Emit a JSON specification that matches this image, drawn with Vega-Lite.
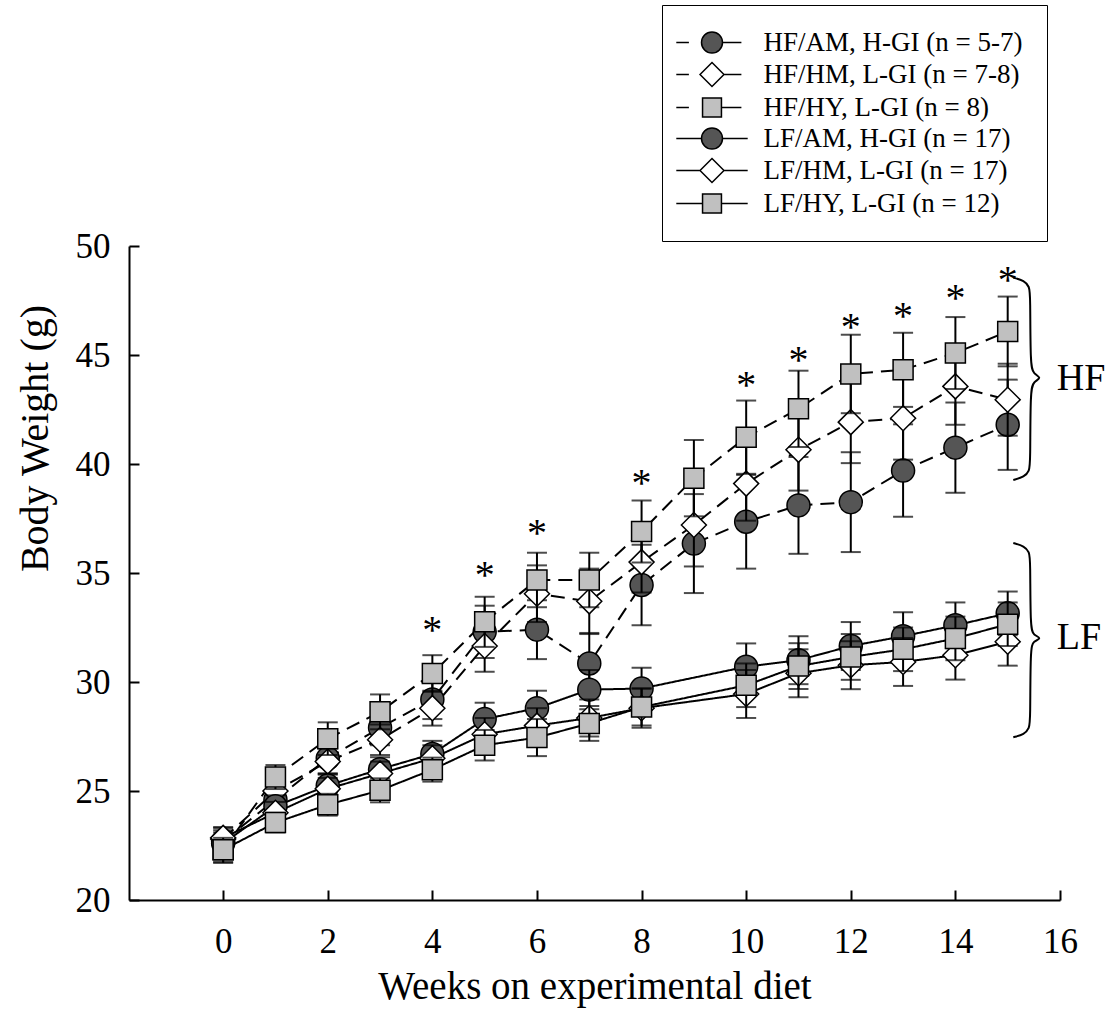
{
  "$schema": "https://vega.github.io/schema/vega-lite/v6.json",
  "width": 931,
  "height": 654,
  "autosize": {"type": "none"},
  "padding": {"left": 129, "top": 246, "right": 55, "bottom": 129},
  "background": "white",
  "config": {"view": {"stroke": null}, "font": "Liberation Serif"},
  "data": {"values": [
    {"d": "HF/AM, H-GI (n = 5-7)", "w": 0, "m": 22.7, "e": 0.5},
    {"d": "HF/AM, H-GI (n = 5-7)", "w": 1, "m": 24.6, "e": 0.6},
    {"d": "HF/AM, H-GI (n = 5-7)", "w": 2, "m": 26.5, "e": 0.7},
    {"d": "HF/AM, H-GI (n = 5-7)", "w": 3, "m": 27.9, "e": 0.8},
    {"d": "HF/AM, H-GI (n = 5-7)", "w": 4, "m": 29.2, "e": 0.9},
    {"d": "HF/AM, H-GI (n = 5-7)", "w": 5, "m": 32.3, "e": 1.2},
    {"d": "HF/AM, H-GI (n = 5-7)", "w": 6, "m": 32.4, "e": 1.35},
    {"d": "HF/AM, H-GI (n = 5-7)", "w": 7, "m": 30.85, "e": 1.4},
    {"d": "HF/AM, H-GI (n = 5-7)", "w": 8, "m": 34.45, "e": 1.85},
    {"d": "HF/AM, H-GI (n = 5-7)", "w": 9, "m": 36.35, "e": 2.27},
    {"d": "HF/AM, H-GI (n = 5-7)", "w": 10, "m": 37.35, "e": 2.15},
    {"d": "HF/AM, H-GI (n = 5-7)", "w": 11, "m": 38.1, "e": 2.22},
    {"d": "HF/AM, H-GI (n = 5-7)", "w": 12, "m": 38.25, "e": 2.29},
    {"d": "HF/AM, H-GI (n = 5-7)", "w": 13, "m": 39.7, "e": 2.12},
    {"d": "HF/AM, H-GI (n = 5-7)", "w": 14, "m": 40.75, "e": 2.07},
    {"d": "HF/AM, H-GI (n = 5-7)", "w": 15, "m": 41.8, "e": 2.07},
    {"d": "HF/HM, L-GI (n = 7-8)", "w": 0, "m": 22.8, "e": 0.5},
    {"d": "HF/HM, L-GI (n = 7-8)", "w": 1, "m": 25.0, "e": 0.6},
    {"d": "HF/HM, L-GI (n = 7-8)", "w": 2, "m": 26.35, "e": 0.6},
    {"d": "HF/HM, L-GI (n = 7-8)", "w": 3, "m": 27.35, "e": 0.7},
    {"d": "HF/HM, L-GI (n = 7-8)", "w": 4, "m": 28.8, "e": 0.8},
    {"d": "HF/HM, L-GI (n = 7-8)", "w": 5, "m": 31.65, "e": 1.18},
    {"d": "HF/HM, L-GI (n = 7-8)", "w": 6, "m": 34.05, "e": 1.3},
    {"d": "HF/HM, L-GI (n = 7-8)", "w": 7, "m": 33.7, "e": 1.5},
    {"d": "HF/HM, L-GI (n = 7-8)", "w": 8, "m": 35.5, "e": 1.4},
    {"d": "HF/HM, L-GI (n = 7-8)", "w": 9, "m": 37.2, "e": 1.9},
    {"d": "HF/HM, L-GI (n = 7-8)", "w": 10, "m": 39.1, "e": 1.7},
    {"d": "HF/HM, L-GI (n = 7-8)", "w": 11, "m": 40.65, "e": 1.87},
    {"d": "HF/HM, L-GI (n = 7-8)", "w": 12, "m": 41.92, "e": 1.88},
    {"d": "HF/HM, L-GI (n = 7-8)", "w": 13, "m": 42.1, "e": 1.9},
    {"d": "HF/HM, L-GI (n = 7-8)", "w": 14, "m": 43.56, "e": 1.76},
    {"d": "HF/HM, L-GI (n = 7-8)", "w": 15, "m": 42.95, "e": 1.65},
    {"d": "HF/HY, L-GI (n = 8)", "w": 0, "m": 22.3, "e": 0.6},
    {"d": "HF/HY, L-GI (n = 8)", "w": 1, "m": 25.64, "e": 0.55},
    {"d": "HF/HY, L-GI (n = 8)", "w": 2, "m": 27.4, "e": 0.75},
    {"d": "HF/HY, L-GI (n = 8)", "w": 3, "m": 28.63, "e": 0.8},
    {"d": "HF/HY, L-GI (n = 8)", "w": 4, "m": 30.39, "e": 0.84},
    {"d": "HF/HY, L-GI (n = 8)", "w": 5, "m": 32.76, "e": 1.15},
    {"d": "HF/HY, L-GI (n = 8)", "w": 6, "m": 34.68, "e": 1.25},
    {"d": "HF/HY, L-GI (n = 8)", "w": 7, "m": 34.68, "e": 1.25},
    {"d": "HF/HY, L-GI (n = 8)", "w": 8, "m": 36.9, "e": 1.42},
    {"d": "HF/HY, L-GI (n = 8)", "w": 9, "m": 39.35, "e": 1.75},
    {"d": "HF/HY, L-GI (n = 8)", "w": 10, "m": 41.23, "e": 1.68},
    {"d": "HF/HY, L-GI (n = 8)", "w": 11, "m": 42.53, "e": 1.75},
    {"d": "HF/HY, L-GI (n = 8)", "w": 12, "m": 44.13, "e": 1.8},
    {"d": "HF/HY, L-GI (n = 8)", "w": 13, "m": 44.32, "e": 1.7},
    {"d": "HF/HY, L-GI (n = 8)", "w": 14, "m": 45.09, "e": 1.65},
    {"d": "HF/HY, L-GI (n = 8)", "w": 15, "m": 46.08, "e": 1.6},
    {"d": "LF/AM, H-GI (n = 17)", "w": 0, "m": 22.6, "e": 0.5},
    {"d": "LF/AM, H-GI (n = 17)", "w": 1, "m": 24.3, "e": 0.5},
    {"d": "LF/AM, H-GI (n = 17)", "w": 2, "m": 25.25, "e": 0.55},
    {"d": "LF/AM, H-GI (n = 17)", "w": 3, "m": 26.0, "e": 0.55},
    {"d": "LF/AM, H-GI (n = 17)", "w": 4, "m": 26.7, "e": 0.6},
    {"d": "LF/AM, H-GI (n = 17)", "w": 5, "m": 28.3, "e": 0.75},
    {"d": "LF/AM, H-GI (n = 17)", "w": 6, "m": 28.8, "e": 0.8},
    {"d": "LF/AM, H-GI (n = 17)", "w": 7, "m": 29.65, "e": 0.9},
    {"d": "LF/AM, H-GI (n = 17)", "w": 8, "m": 29.7, "e": 0.95},
    {"d": "LF/AM, H-GI (n = 17)", "w": 10, "m": 30.7, "e": 1.07},
    {"d": "LF/AM, H-GI (n = 17)", "w": 11, "m": 31.0, "e": 1.1},
    {"d": "LF/AM, H-GI (n = 17)", "w": 12, "m": 31.65, "e": 1.1},
    {"d": "LF/AM, H-GI (n = 17)", "w": 13, "m": 32.1, "e": 1.1},
    {"d": "LF/AM, H-GI (n = 17)", "w": 14, "m": 32.6, "e": 1.05},
    {"d": "LF/AM, H-GI (n = 17)", "w": 15, "m": 33.15, "e": 1.0},
    {"d": "LF/HM, L-GI (n = 17)", "w": 0, "m": 22.85, "e": 0.5},
    {"d": "LF/HM, L-GI (n = 17)", "w": 1, "m": 24.0, "e": 0.5},
    {"d": "LF/HM, L-GI (n = 17)", "w": 2, "m": 25.1, "e": 0.5},
    {"d": "LF/HM, L-GI (n = 17)", "w": 3, "m": 25.8, "e": 0.55},
    {"d": "LF/HM, L-GI (n = 17)", "w": 4, "m": 26.5, "e": 0.6},
    {"d": "LF/HM, L-GI (n = 17)", "w": 5, "m": 27.6, "e": 0.75},
    {"d": "LF/HM, L-GI (n = 17)", "w": 6, "m": 28.0, "e": 0.8},
    {"d": "LF/HM, L-GI (n = 17)", "w": 7, "m": 28.35, "e": 0.85},
    {"d": "LF/HM, L-GI (n = 17)", "w": 8, "m": 28.8, "e": 0.9},
    {"d": "LF/HM, L-GI (n = 17)", "w": 10, "m": 29.45, "e": 1.1},
    {"d": "LF/HM, L-GI (n = 17)", "w": 11, "m": 30.4, "e": 1.1},
    {"d": "LF/HM, L-GI (n = 17)", "w": 12, "m": 30.77, "e": 1.1},
    {"d": "LF/HM, L-GI (n = 17)", "w": 13, "m": 30.92, "e": 1.1},
    {"d": "LF/HM, L-GI (n = 17)", "w": 14, "m": 31.23, "e": 1.12},
    {"d": "LF/HM, L-GI (n = 17)", "w": 15, "m": 31.85, "e": 1.1},
    {"d": "LF/HY, L-GI (n = 12)", "w": 0, "m": 22.3, "e": 0.55},
    {"d": "LF/HY, L-GI (n = 12)", "w": 1, "m": 23.55, "e": 0.45},
    {"d": "LF/HY, L-GI (n = 12)", "w": 2, "m": 24.37, "e": 0.5},
    {"d": "LF/HY, L-GI (n = 12)", "w": 3, "m": 25.03, "e": 0.55},
    {"d": "LF/HY, L-GI (n = 12)", "w": 4, "m": 25.98, "e": 0.55},
    {"d": "LF/HY, L-GI (n = 12)", "w": 5, "m": 27.1, "e": 0.7},
    {"d": "LF/HY, L-GI (n = 12)", "w": 6, "m": 27.45, "e": 0.85},
    {"d": "LF/HY, L-GI (n = 12)", "w": 7, "m": 28.1, "e": 0.8},
    {"d": "LF/HY, L-GI (n = 12)", "w": 8, "m": 28.85, "e": 0.85},
    {"d": "LF/HY, L-GI (n = 12)", "w": 10, "m": 29.85, "e": 1.0},
    {"d": "LF/HY, L-GI (n = 12)", "w": 11, "m": 30.73, "e": 1.05},
    {"d": "LF/HY, L-GI (n = 12)", "w": 12, "m": 31.15, "e": 1.05},
    {"d": "LF/HY, L-GI (n = 12)", "w": 13, "m": 31.5, "e": 1.0},
    {"d": "LF/HY, L-GI (n = 12)", "w": 14, "m": 32.0, "e": 1.0},
    {"d": "LF/HY, L-GI (n = 12)", "w": 15, "m": 32.65, "e": 1.0}
  ]},
  "encoding": {
    "x": {"field": "w", "type": "quantitative", "title": "Weeks on experimental diet",
      "scale": {"domain": [-1.8, 16], "nice": false, "zero": false},
      "axis": {"values": [0, 2, 4, 6, 8, 10, 12, 14, 16], "grid": false, "tickSize": -10, "tickWidth": 2, "tickColor": "black",
        "domainColor": "black", "domainWidth": 2, "labelFont": "Liberation Serif", "labelFontSize": 35, "labelColor": "black",
        "labelPadding": 34, "labelFlush": false, "labelOverlap": false, "labelBound": false,
        "titleFont": "Liberation Serif", "titleFontSize": 39, "titleFontWeight": "normal", "titleColor": "black",
        "titleY": 86, "titleBaseline": "middle"}},
    "y": {"field": "m", "type": "quantitative", "title": "Body Weight (g)",
      "scale": {"domain": [20, 50], "nice": false, "zero": false},
      "axis": {"values": [20, 25, 30, 35, 40, 45, 50], "grid": false, "tickSize": -10, "tickWidth": 2, "tickColor": "black",
        "domainColor": "black", "domainWidth": 2, "labelFont": "Liberation Serif", "labelFontSize": 35, "labelColor": "black",
        "labelPadding": 29, "labelFlush": false, "labelOverlap": false, "labelBound": false,
        "titleFont": "Liberation Serif", "titleFontSize": 40, "titleFontWeight": "normal", "titleColor": "black",
        "titleX": -94, "titleY": 192, "titleBaseline": "middle", "titleAlign": "center", "titleAngle": -90}}
  },
  "layer": [
    {"mark": {"type": "line", "color": "black", "strokeWidth": 2},
     "encoding": {"strokeDash": {"field": "d", "type": "nominal",
       "scale": {"range": [[14, 8], [14, 8], [14, 8], [1, 0], [1, 0], [1, 0]]}, "legend": null}}},
    {"transform": [{"filter": {"field": "d", "equal": "HF/AM, H-GI (n = 5-7)"}}],
     "mark": {"type": "errorbar", "ticks": true, "size": 20, "thickness": 2, "color": "black"},
     "encoding": {"yError": {"field": "e"}}},
    {"transform": [{"filter": {"field": "d", "equal": "HF/AM, H-GI (n = 5-7)"}}],
     "mark": {"type": "point", "shape": "circle", "filled": true, "fill": "#555555", "stroke": "black", "strokeWidth": 1.5, "size": 529, "opacity": 1}},
    {"transform": [{"filter": {"field": "d", "equal": "HF/HM, L-GI (n = 7-8)"}}],
     "mark": {"type": "errorbar", "ticks": true, "size": 20, "thickness": 2, "color": "black"},
     "encoding": {"yError": {"field": "e"}}},
    {"transform": [{"filter": {"field": "d", "equal": "HF/HM, L-GI (n = 7-8)"}}],
     "mark": {"type": "point", "shape": "diamond", "filled": true, "fill": "white", "stroke": "black", "strokeWidth": 1.5, "size": 625, "opacity": 1}},
    {"transform": [{"filter": {"field": "d", "equal": "HF/HY, L-GI (n = 8)"}}],
     "mark": {"type": "errorbar", "ticks": true, "size": 20, "thickness": 2, "color": "black"},
     "encoding": {"yError": {"field": "e"}}},
    {"transform": [{"filter": {"field": "d", "equal": "HF/HY, L-GI (n = 8)"}}],
     "mark": {"type": "point", "shape": "square", "filled": true, "fill": "#c0c0c0", "stroke": "black", "strokeWidth": 1.5, "size": 400, "opacity": 1}},
    {"transform": [{"filter": {"field": "d", "equal": "LF/AM, H-GI (n = 17)"}}],
     "mark": {"type": "errorbar", "ticks": true, "size": 20, "thickness": 2, "color": "black"},
     "encoding": {"yError": {"field": "e"}}},
    {"transform": [{"filter": {"field": "d", "equal": "LF/AM, H-GI (n = 17)"}}],
     "mark": {"type": "point", "shape": "circle", "filled": true, "fill": "#555555", "stroke": "black", "strokeWidth": 1.5, "size": 529, "opacity": 1}},
    {"transform": [{"filter": {"field": "d", "equal": "LF/HM, L-GI (n = 17)"}}],
     "mark": {"type": "errorbar", "ticks": true, "size": 20, "thickness": 2, "color": "black"},
     "encoding": {"yError": {"field": "e"}}},
    {"transform": [{"filter": {"field": "d", "equal": "LF/HM, L-GI (n = 17)"}}],
     "mark": {"type": "point", "shape": "diamond", "filled": true, "fill": "white", "stroke": "black", "strokeWidth": 1.5, "size": 625, "opacity": 1}},
    {"transform": [{"filter": {"field": "d", "equal": "LF/HY, L-GI (n = 12)"}}],
     "mark": {"type": "errorbar", "ticks": true, "size": 20, "thickness": 2, "color": "black"},
     "encoding": {"yError": {"field": "e"}}},
    {"transform": [{"filter": {"field": "d", "equal": "LF/HY, L-GI (n = 12)"}}],
     "mark": {"type": "point", "shape": "square", "filled": true, "fill": "#c0c0c0", "stroke": "black", "strokeWidth": 1.5, "size": 400, "opacity": 1}},
    {"transform": [{"filter": "false"}],
     "mark": {"type": "point", "filled": true, "size": 441, "stroke": "black", "strokeWidth": 1.5},
     "encoding": {
       "shape": {"field": "d", "type": "nominal",
         "scale": {"domain": ["HF/AM, H-GI (n = 5-7)", "HF/HM, L-GI (n = 7-8)", "HF/HY, L-GI (n = 8)", "LF/AM, H-GI (n = 17)", "LF/HM, L-GI (n = 17)", "LF/HY, L-GI (n = 12)"],
           "range": [
             "M-3.4,0H-2.2M1,0H2.8M1,0A1,1,0,1,1,-1,0A1,1,0,1,1,1,0Z",
             "M-3.4,0H-2.2M1.14,0H2.8M-1.14,0L0,-1.14L1.14,0L0,1.14Z",
             "M-3.4,0H-2.2M0.9,0H2.8M-0.9,-0.9H0.9V0.9H-0.9Z",
             "M-3.4,0H-1M1,0H3.4M1,0A1,1,0,1,1,-1,0A1,1,0,1,1,1,0Z",
             "M-3.4,0H-1.14M1.14,0H3.4M-1.14,0L0,-1.14L1.14,0L0,1.14Z",
             "M-3.4,0H-0.9M0.9,0H3.4M-0.9,-0.9H0.9V0.9H-0.9Z"]},
         "legend": {"orient": "none", "legendX": 533, "legendY": -241, "title": null, "padding": 24,
           "strokeColor": "black", "fillColor": "white", "labelFont": "Liberation Serif", "labelFontSize": 27,
           "labelColor": "black", "labelLimit": 0, "labelOffset": 38, "symbolSize": 441, "symbolOffset": 12.5,
           "symbolStrokeColor": "black", "symbolStrokeWidth": 1.5, "symbolOpacity": 1, "rowPadding": 3, "cornerRadius": 0,
           "encode": {"symbols": {"update": {"stroke": {"value": "black"}, "strokeWidth": {"value": 1.5}}}}}},
       "fill": {"field": "d", "type": "nominal",
         "scale": {"domain": ["HF/AM, H-GI (n = 5-7)", "HF/HM, L-GI (n = 7-8)", "HF/HY, L-GI (n = 8)", "LF/AM, H-GI (n = 17)", "LF/HM, L-GI (n = 17)", "LF/HY, L-GI (n = 12)"],
           "range": ["#555555", "white", "#c0c0c0", "#555555", "white", "#c0c0c0"]},
         "legend": {"orient": "none", "legendX": 533, "legendY": -241, "title": null, "padding": 24,
           "strokeColor": "black", "fillColor": "white", "labelFont": "Liberation Serif", "labelFontSize": 27,
           "labelColor": "black", "labelLimit": 0, "labelOffset": 38, "symbolSize": 441, "symbolOffset": 12.5,
           "symbolStrokeColor": "black", "symbolStrokeWidth": 1.5, "symbolOpacity": 1, "rowPadding": 3, "cornerRadius": 0,
           "encode": {"symbols": {"update": {"stroke": {"value": "black"}, "strokeWidth": {"value": 1.5}}}}}}
     }},
    {"data": {"values": [
      {"w": 4, "m": 32.85}, {"w": 5, "m": 35.37}, {"w": 6, "m": 37.28}, {"w": 8, "m": 39.58},
      {"w": 10, "m": 44.09}, {"w": 11, "m": 45.24}, {"w": 12, "m": 46.74}, {"w": 13, "m": 47.26},
      {"w": 14, "m": 48.07}, {"w": 15, "m": 48.92}]},
     "mark": {"type": "text", "text": "*", "font": "Liberation Serif", "fontSize": 40, "align": "center", "baseline": "middle", "dy": 11, "color": "black"}},
    {"data": {"values": [
      {"b": "HF", "o": 1, "w": 15.107, "m": 48.548}, {"b": "HF", "o": 2, "w": 15.318, "m": 48.41}, {"b": "HF", "o": 3, "w": 15.414, "m": 48.135},
      {"b": "HF", "o": 4, "w": 15.433, "m": 47.767}, {"b": "HF", "o": 5, "w": 15.433, "m": 44.506}, {"b": "HF", "o": 6, "w": 15.49, "m": 44.138},
      {"b": "HF", "o": 7, "w": 15.66, "m": 43.955}, {"b": "HF", "o": 8, "w": 15.49, "m": 43.771}, {"b": "HF", "o": 9, "w": 15.433, "m": 43.404},
      {"b": "HF", "o": 10, "w": 15.433, "m": 40.051}, {"b": "HF", "o": 11, "w": 15.414, "m": 39.684}, {"b": "HF", "o": 12, "w": 15.318, "m": 39.408},
      {"b": "HF", "o": 13, "w": 15.107, "m": 39.27},
      {"b": "LF", "o": 1, "w": 15.107, "m": 36.376}, {"b": "LF", "o": 2, "w": 15.318, "m": 36.238}, {"b": "LF", "o": 3, "w": 15.414, "m": 35.962},
      {"b": "LF", "o": 4, "w": 15.433, "m": 35.595}, {"b": "LF", "o": 5, "w": 15.433, "m": 32.471}, {"b": "LF", "o": 6, "w": 15.49, "m": 32.15},
      {"b": "LF", "o": 7, "w": 15.66, "m": 32.012}, {"b": "LF", "o": 8, "w": 15.49, "m": 31.874}, {"b": "LF", "o": 9, "w": 15.433, "m": 31.553},
      {"b": "LF", "o": 10, "w": 15.433, "m": 28.245}, {"b": "LF", "o": 11, "w": 15.414, "m": 27.878}, {"b": "LF", "o": 12, "w": 15.318, "m": 27.602},
      {"b": "LF", "o": 13, "w": 15.107, "m": 27.465}]},
     "mark": {"type": "line", "color": "black", "strokeWidth": 2, "interpolate": "basis"},
     "encoding": {"order": {"field": "o", "type": "quantitative"}, "detail": {"field": "b", "type": "nominal"}}},
    {"data": {"values": [{"w": 15.94, "m": 43.9, "t": "HF"}, {"w": 15.94, "m": 32.0, "t": "LF"}]},
     "mark": {"type": "text", "align": "left", "baseline": "middle", "font": "Liberation Serif", "fontSize": 38, "color": "black"},
     "encoding": {"text": {"field": "t", "type": "nominal"}}}
  ]
}
